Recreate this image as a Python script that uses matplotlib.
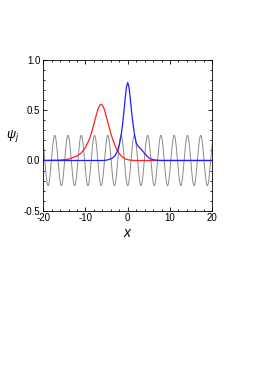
import numpy as np
import matplotlib
matplotlib.use("Agg")
import matplotlib.pyplot as plt
from matplotlib.ticker import MultipleLocator

plt.rcParams['font.family'] = ['Liberation Sans', 'DejaVu Sans']
plt.rcParams['mathtext.fontset'] = 'custom'
plt.rcParams['mathtext.it'] = 'Liberation Sans:italic'
plt.rcParams['mathtext.rm'] = 'Liberation Sans'

# Lattice potential (grey): one period, repeated over the range
lattice_period = np.pi
lattice_profile = [-0.25, -0.245, -0.231, -0.208, -0.177, -0.139, -0.096, -0.049,
                   0.0, 0.049, 0.096, 0.139, 0.177, 0.208, 0.231, 0.245,
                   0.25, 0.245, 0.231, 0.208, 0.177, 0.139, 0.096, 0.049,
                   0.0, -0.049, -0.096, -0.139, -0.177, -0.208, -0.231, -0.245]

# Red mode
red_x = [-20, -16, -14, -12, -11, -10, -9, -8.5, -8, -7.5, -7, -6.6, -6.3, -6.0,
         -5.6, -5.1, -4.6, -4.1, -3.6, -3.1, -2.6, -2.1, -1.6, -1.1, -0.6, 0.0, 0.5, 1.5, 20]
red_y = [0.0, 0.004, 0.013, 0.045, 0.075, 0.128, 0.22, 0.286, 0.363, 0.443, 0.516, 0.551, 0.56, 0.551,
         0.516, 0.443, 0.363, 0.286, 0.215, 0.16, 0.11, 0.075, 0.048, 0.03, 0.017, 0.008, 0.004, 0.0, 0.0]

# Blue mode
blue_x = [-20, -5.5, -5, -4.5, -4, -3.5, -3, -2.5, -2, -1.6, -1.2, -0.9, -0.6, -0.3, 0.0,
          0.3, 0.6, 0.9, 1.2, 1.6, 2.0, 2.5, 3.0, 3.5, 4.0, 4.5, 5.0, 5.5, 6.0, 7.0, 8.0, 20]
blue_y = [0.0, 0.0, 0.004, 0.009, 0.016, 0.028, 0.049, 0.088, 0.154, 0.24, 0.366, 0.49, 0.62, 0.73, 0.777,
          0.73, 0.62, 0.49, 0.38, 0.26, 0.175, 0.14, 0.118, 0.095, 0.07, 0.045, 0.027, 0.015, 0.008, 0.002, 0.0, 0.0]

fig = plt.figure(figsize=(2.62, 3.70), dpi=100)
ax = fig.add_axes([0.165, 0.4305, 0.645, 0.4073])

n_per = len(lattice_profile)
n_rep = int(np.ceil(40 / lattice_period)) + 2
grey_y = np.tile(lattice_profile, n_rep)
grey_x = -lattice_period * 7 + np.arange(len(grey_y)) * lattice_period / n_per
ax.plot(grey_x, grey_y, color="#8a8a8a", lw=0.7)
ax.plot(red_x, red_y, color="#ff2020", lw=0.9)
ax.plot(blue_x, blue_y, color="#2020ff", lw=0.9)

ax.set_xlim(-20, 20)
ax.set_ylim(-0.5, 1.0)
ax.xaxis.set_minor_locator(MultipleLocator(2))
ax.yaxis.set_minor_locator(MultipleLocator(0.1))
ax.set_yticks([-0.5, 0.0, 0.5, 1.0])
ax.set_yticklabels(["-0.5", "0.0", "0.5", "1.0"])
ax.set_xticks([-20, -10, 0, 10, 20])
ax.set_xticklabels(["-20", "-10", "0", "10", "20"])
ax.tick_params(which="both", direction="in", top=True, right=True, labelsize=7,
               width=0.6, pad=2)
ax.tick_params(which="major", length=3)
ax.tick_params(which="minor", length=1.5)
for s in ax.spines.values():
    s.set_linewidth(0.6)

fig.text(13 / 262, 1 - 136 / 370, r"$\psi_j$", fontsize=9, ha="center", va="center")
fig.text(127.5 / 262, 1 - 233 / 370, "x", fontsize=10, style="italic", ha="center", va="center")

fig.savefig("out.png", dpi=100)
